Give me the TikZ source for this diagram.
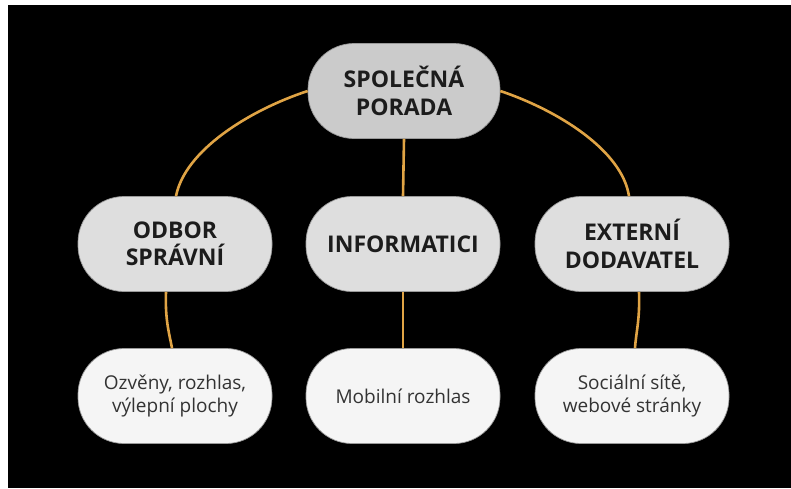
\documentclass[tikz,border=0pt]{standalone}
\usepackage{fontspec}
\setmainfont{Open Sans}
\definecolor{gold}{HTML}{E0A445}
\definecolor{topfill}{HTML}{CBCBCB}
\definecolor{midfill}{HTML}{DEDEDE}
\definecolor{lowfill}{HTML}{F5F5F5}
\definecolor{edge}{HTML}{9A9A9A}
\definecolor{ink}{HTML}{1C1C1C}
\tikzset{
  pill/.style={rectangle, rounded corners=46pt, minimum width=194pt, minimum height=95pt,
    draw=edge, line width=0.7pt, align=center, inner sep=0pt},
  hdr/.style={pill, font=\fontsize{23}{27.5}\selectfont\bfseries, text=ink},
  leaf/.style={pill, fill=lowfill, font=\fontsize{19}{23}\selectfont, text=ink!90},
  link/.style={draw=gold, line width=2.6pt}
}
\begin{document}
\begin{tikzpicture}[x=1pt,y=-1pt]
\useasboundingbox (0,0) rectangle (791,488);
\fill[white] (0,0) rectangle (791,488);
\fill[black] (8,5) rectangle (791,488);
% nodes
\node[hdr, fill=topfill, minimum width=192pt] (T) at (404,91) {SPOLEČNÁ\\PORADA};
\node[hdr, fill=midfill] (L) at (175,244) {ODBOR\\SPRÁVNÍ};
\node[hdr, fill=midfill] (M) at (403,244) {INFORMATICI};
\node[hdr, fill=midfill] (R) at (632,244) {EXTERNÍ\\DODAVATEL};
\node[leaf] (LL) at (175,396) {Ozvěny, rozhlas,\\výlepní plochy};
\node[leaf] (ML) at (403,396) {Mobilní rozhlas};
\node[leaf] (RL) at (632,396) {Sociální sítě,\\webové stránky};
% connectors
\draw[link] (T.west) .. controls (250,110) and (185,150) .. ([xshift=1pt]L.north);
\draw[link] (T.east) .. controls (557,110) and (622,150) .. ([xshift=-3pt]R.north);
\draw[link] (T.south) -- (M.north);
\draw[link] (M.south) -- (ML.north);
\draw[link] ([xshift=-9pt]L.south) .. controls (165,320) and (169,332) .. ([xshift=-3pt]LL.north);
\draw[link] ([xshift=7pt]R.south) .. controls (640,320) and (636,332) .. ([xshift=3pt]RL.north);
\end{tikzpicture}
\end{document}
